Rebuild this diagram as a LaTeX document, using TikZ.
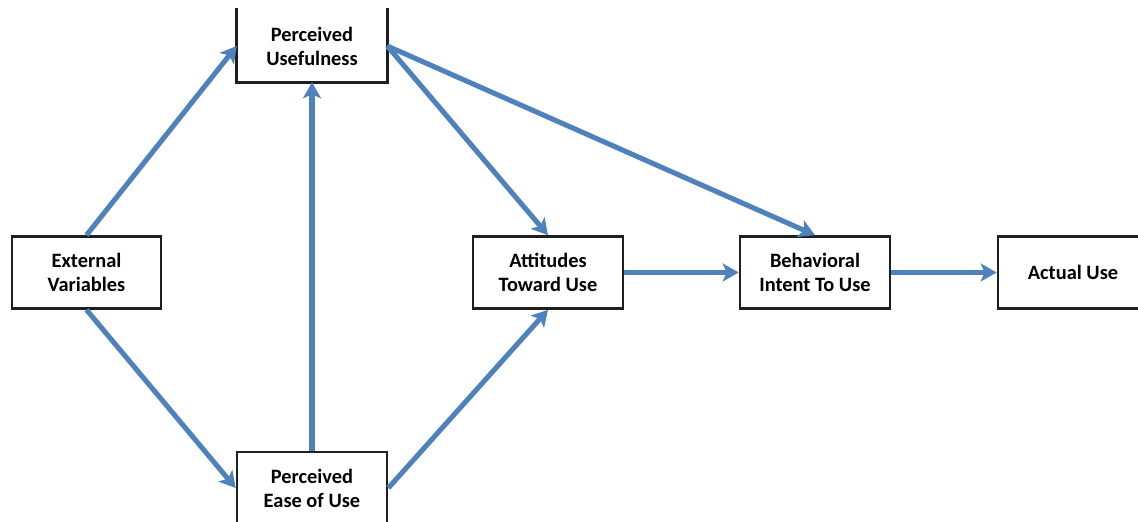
\documentclass[tikz,border=0pt]{standalone}
\usepackage{fontspec}
\setmainfont{Carlito}
\usetikzlibrary{arrows.meta}
\definecolor{linkblue}{HTML}{4F81BD}
\tikzset{
  box/.style={minimum width=112.5pt, minimum height=54pt, inner sep=0pt,
    align=center, font=\bfseries\fontsize{15.3pt}{18pt}\selectfont},
  framed/.style={box, draw=black!88, line width=2pt},
  link/.style={draw=linkblue, line width=3.8pt,
    -{Stealth[length=12pt, width=13.5pt, inset=3pt]}}
}
\begin{document}
\begin{tikzpicture}[x=0.75pt, y=-0.75pt]
  \useasboundingbox (0,0) rectangle (1138,521);
  \clip (0,0) rectangle (1138,521);

  % constructs of the model
  \node[framed, minimum width=111.75pt] (ev) at (86.5,272.5) {External\\Variables};
  \node[box] (pu) at (312,46) {Perceived\\Usefulness};
  \node[framed] (peou) at (312,488) {Perceived\\Ease of Use};
  \node[framed] (att) at (548,272.5) {Attitudes\\Toward Use};
  \node[framed] (bi) at (815,272.5) {Behavioral\\Intent To Use};
  \node[framed] (au) at (1073,272.5) {Actual Use};

  % usefulness box drawn open at the top
  \draw[black!88, line width=2pt, line cap=rect]
    (pu.north west) -- (pu.south west) -- (pu.south east) -- (pu.north east);

  % causal links
  \draw[link] (ev.north) -- (pu.west);
  \draw[link] (ev.south) -- (peou.west);
  \draw[link] (peou.north) -- (pu.south);
  \draw[link] (pu.east) -- (att.north);
  \draw[link] (pu.east) -- (bi.north);
  \draw[link] (peou.east) -- (att.south);
  \draw[link] (att.east) -- (bi.west);
  \draw[link] (bi.east) -- (au.west);
\end{tikzpicture}
\end{document}
